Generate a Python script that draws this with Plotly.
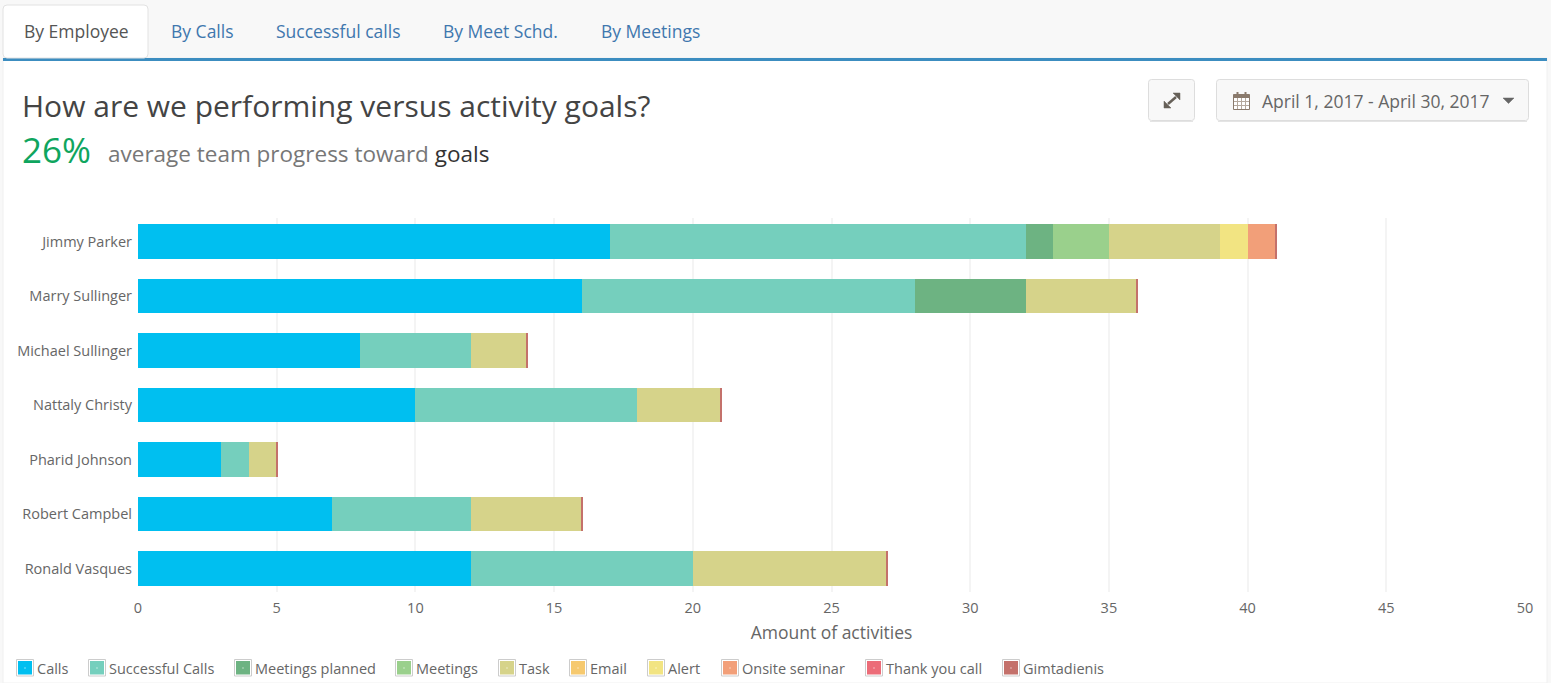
import plotly.graph_objects as go

W, H = 1551, 683
FONT = "Open Sans"

employees = ["Jimmy Parker", "Marry Sullinger", "Michael Sullinger", "Nattaly Christy",
             "Pharid Johnson", "Robert Campbel", "Ronald Vasques"]
calls = [17, 16, 8, 10, 3, 7, 12]
successful_calls = [15, 12, 4, 8, 1, 5, 8]
meetings_planned = [1, 4, 0, 0, 0, 0, 0]
meetings = [2, 0, 0, 0, 0, 0, 0]
task = [4, 4, 2, 3, 1, 4, 7]
email = [0, 0, 0, 0, 0, 0, 0]
alert = [1, 0, 0, 0, 0, 0, 0]
onsite_seminar = [1, 0, 0, 0, 0, 0, 0]
thank_you_call = [0, 0, 0, 0, 0, 0, 0]
gimtadienis = [0.05, 0.05, 0.05, 0.05, 0.05, 0.05, 0.05]

x_ticks = [0, 5, 10, 15, 20, 25, 30, 35, 40, 45, 50]
tabs = ["By Employee", "By Calls", "Successful calls", "By Meet Schd.", "By Meetings"]

series = [
    ("Calls", calls, "#00BFF0"),
    ("Successful Calls", successful_calls, "#75CFBD"),
    ("Meetings planned", meetings_planned, "#6DB382"),
    ("Meetings", meetings, "#9AD08C"),
    ("Task", task, "#D6D38A"),
    ("Email", email, "#F6C96F"),
    ("Alert", alert, "#F2E482"),
    ("Onsite seminar", onsite_seminar, "#F29F79"),
    ("Thank you call", thank_you_call, "#EC6C78"),
    ("Gimtadienis", gimtadienis, "#C4716B"),
]


def px(x):
    return x / W


def py(y):
    return 1 - y / H


def rect(x0, y0, x1, y1, fill, line=None, layer="below"):
    return dict(type="rect", xref="paper", yref="paper", x0=px(x0), x1=px(x1), y0=py(y0), y1=py(y1),
                fillcolor=fill, line=dict(color=line or fill, width=1 if line else 0), layer=layer)


def segment(x0, y0, x1, y1, color, width=1):
    return dict(type="line", xref="paper", yref="paper", x0=px(x0), x1=px(x1), y0=py(y0), y1=py(y1),
                line=dict(color=color, width=width), layer="below")


def round_box(x0, y0, x1, y1, r, fill, line):
    p = lambda x, y: f"{px(x)},{py(y)}"
    path = (f"M {p(x0 + r, y0)} L {p(x1 - r, y0)} Q {p(x1, y0)} {p(x1, y0 + r)} "
            f"L {p(x1, y1 - r)} Q {p(x1, y1)} {p(x1 - r, y1)} L {p(x0 + r, y1)} "
            f"Q {p(x0, y1)} {p(x0, y1 - r)} L {p(x0, y0 + r)} Q {p(x0, y0)} {p(x0 + r, y0)} Z")
    return dict(type="path", xref="paper", yref="paper", path=path, fillcolor=fill,
                line=dict(color=line, width=1), layer="below")


def label(x, y, text, size, color, anchor="left"):
    return dict(xref="paper", yref="paper", x=px(x), y=py(y), text=text, showarrow=False,
                xanchor=anchor, yanchor="middle", align="left",
                font=dict(family=FONT, size=size, color=color), borderpad=0, borderwidth=0)


def poly(points, fill):
    d = "M " + " L ".join(f"{px(x)},{py(y)}" for x, y in points) + " Z"
    return dict(type="path", xref="paper", yref="paper", path=d, fillcolor=fill,
                line=dict(color=fill, width=0.5), layer="below")


fig = go.Figure()
for name, values, color in series:
    fig.add_trace(go.Bar(y=employees, x=values, name=name, orientation="h",
                         marker=dict(color=color, line=dict(width=0))))

shapes = [
    rect(0, 0, W, H, "#F8F8F8"),
    rect(3, 58, 1547, H, "#FFFFFF", "#F0F0F0"),
    rect(3, 58, 1547, 61, "#3C8DC0"),
    round_box(3, 5, 148, 58, 4, "#FFFFFF", "#E2E2E2"),
    # expand and date buttons
    round_box(1148.5, 79.5, 1194.5, 120.5, 3, "#F8F8F8", "#DDDDDD"),
    round_box(1216.5, 79.5, 1528.5, 120.5, 3, "#F8F8F8", "#DDDDDD"),
    segment(1150, 121.5, 1193, 121.5, "#E4E4E4"),
    segment(1218, 121.5, 1527, 121.5, "#E4E4E4"),
    # expand arrows
    poly([(1173, 93), (1180, 93), (1180, 100)], "#666058"),
    poly([(1164, 108), (1164, 101), (1171, 108)], "#666058"),
    segment(1168, 104, 1176, 97, "#666058", 2.5),
    # calendar icon
    rect(1233.5, 94.5, 1249.5, 109.5, "#FFFFFF", "#8A7A6C"),
    rect(1233.5, 94.5, 1249.5, 98, "#8A7A6C"),
    rect(1236.5, 92, 1238.5, 96, "#8A7A6C"),
    rect(1244.5, 92, 1246.5, 96, "#8A7A6C"),
    # dropdown caret
    poly([(1503, 98), (1514, 98), (1508.5, 103.5)], "#666666"),
]
for gx in [1237.5, 1241.5, 1245.5]:
    shapes.append(segment(gx, 98, gx, 109, "#B5A99E"))
for gy in [101.5, 105.5]:
    shapes.append(segment(1234, gy, 1249, gy, "#B5A99E"))

annotations = [
    label(22, 105, "How are we performing versus activity goals?", 30, "#444444"),
    label(22, 150, "26%", 35, "#0FA55E"),
    label(108, 153, 'average team progress toward <span style="color:#333333">goals</span>', 22.5, "#777777"),
    label(1262, 101, "April 1, 2017 - April 30, 2017", 17.5, "#666666"),
]

tab_x = [24, 171, 276, 443, 601]
for i, (tab, tx) in enumerate(zip(tabs, tab_x)):
    annotations.append(label(tx, 31, tab, 17.5, "#555555" if i == 0 else "#3F77AE"))

# swatch left edges of the legend row
legend_x = [17, 89, 235, 396, 499, 570, 648, 722, 866, 1003]
for (name, values, color), lx in zip(series, legend_x):
    shapes.append(rect(lx - 0.5, 659.5, lx + 16.5, 676, "#FFFFFF", "#CCCCCC"))
    shapes.append(rect(lx + 1, 661, lx + 15, 674.5, color))
    shapes.append(rect(lx + 7.5, 667.5, lx + 8.5, 668.5, "#FFFFFF"))
    annotations.append(label(lx + 20, 668, name, 14.5, "#666666"))

fig.update_layout(
    width=W, height=H, autosize=False,
    margin=dict(l=0, r=0, t=0, b=0),
    paper_bgcolor="#FFFFFF", plot_bgcolor="rgba(0,0,0,0)",
    barmode="stack", bargap=0.37, showlegend=False,
    font=dict(family=FONT, size=14, color="#666666"),
    shapes=shapes, annotations=annotations,
)
fig.update_xaxes(
    domain=[px(138), px(1525)], range=[0, 50], tickvals=x_ticks, anchor="y", automargin=False,
    showgrid=True, gridcolor="#F4F4F4", gridwidth=2, zeroline=False, showline=False, ticks="",
    ticklabelstandoff=5,
    tickfont=dict(family=FONT, size=14.5, color="#666666"),
    title=dict(text="Amount of activities", font=dict(family=FONT, size=17.5, color="#666666"), standoff=11),
)
fig.update_yaxes(
    domain=[py(592), py(218)], range=[6.431, -0.431], type="category", categoryorder="array", automargin=False,
    categoryarray=employees, showgrid=False, zeroline=False, showline=False, ticks="", ticklabelstandoff=5,
    tickfont=dict(family=FONT, size=14.5, color="#666666"),
)

fig.write_html("out.html", config=dict(displayModeBar=False),
               post_script="document.body.style.margin='0';document.body.style.overflow='hidden';")
